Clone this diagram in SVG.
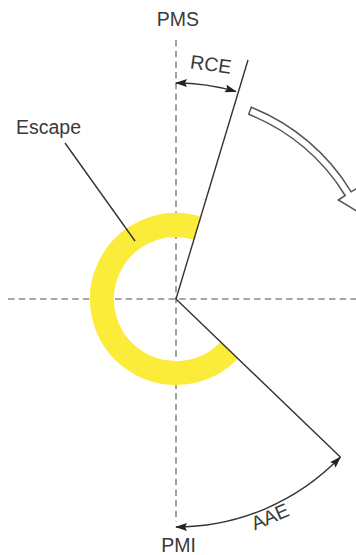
<svg xmlns="http://www.w3.org/2000/svg" width="356" height="555" viewBox="0 0 356 555">
<defs>
<style>
text{font-family:"Liberation Sans",Arial,sans-serif;font-size:19.5px;fill:#3a3a3a}
.axis{stroke:#8a8a8a;stroke-width:1.6;stroke-dasharray:6.5 4.2;fill:none}
.line{stroke:#333;stroke-width:1.4;fill:none}
.dim{stroke:#333;stroke-width:1.4;fill:none;marker-start:url(#ah);marker-end:url(#ah)}
.hollow{stroke:#555;stroke-width:1.5;fill:#fff;stroke-linejoin:miter}
</style>
<marker id="ah" viewBox="0 0 12 8" refX="11" refY="4" markerWidth="12" markerHeight="8" markerUnits="userSpaceOnUse" orient="auto-start-reverse">
<path d="M0,0 L12,4 L0,8 L2,4 z" fill="#222"/>
</marker>
</defs>
<g id="axes">
<line class="axis" x1="176" y1="40" x2="176" y2="522"/>
<line class="axis" x1="8" y1="299" x2="356" y2="299"/>
</g>
<g id="escape-ring">
<path d="M197.4,228.2 A74,74 0 1 0 229.3,350.3" stroke="#FCEC3A" stroke-width="24" fill="none"/>
</g>
<g id="connectors">
<line class="line" x1="176" y1="299" x2="248" y2="60"/>
<line class="line" x1="176" y1="299" x2="340.3" y2="457.1"/>
<line class="line" x1="65" y1="143" x2="135" y2="241"/>
<path class="dim" d="M176,83 A216,216 0 0 1 235.9,91.5"/>
<path class="dim" d="M176,527 A228,228 0 0 0 340.3,457.1"/>
</g>
<g id="rotation-arrow">
<path class="hollow" d="M251.3,107.3 A205.5,205.5 0 0 1 351.2,191.8 L360.6,186.3 L361.5,214 L338.3,200 L345.2,195.5 A198.5,198.5 0 0 0 248.7,114.3 Z"/>
</g>
<g id="label-pms"><text x="178" y="26" text-anchor="middle">PMS</text></g>
<g id="label-pmi"><text x="178.5" y="551.5" text-anchor="middle">PMI</text></g>
<g id="label-escape"><text x="16" y="134">Escape</text></g>
<g id="label-rce"><text x="210" y="71" text-anchor="middle" transform="rotate(8 210 71)">RCE</text></g>
<g id="label-aae"><text x="272.6" y="522.9" text-anchor="middle" transform="rotate(-23 272.6 522.9)">AAE</text></g>
</svg>
